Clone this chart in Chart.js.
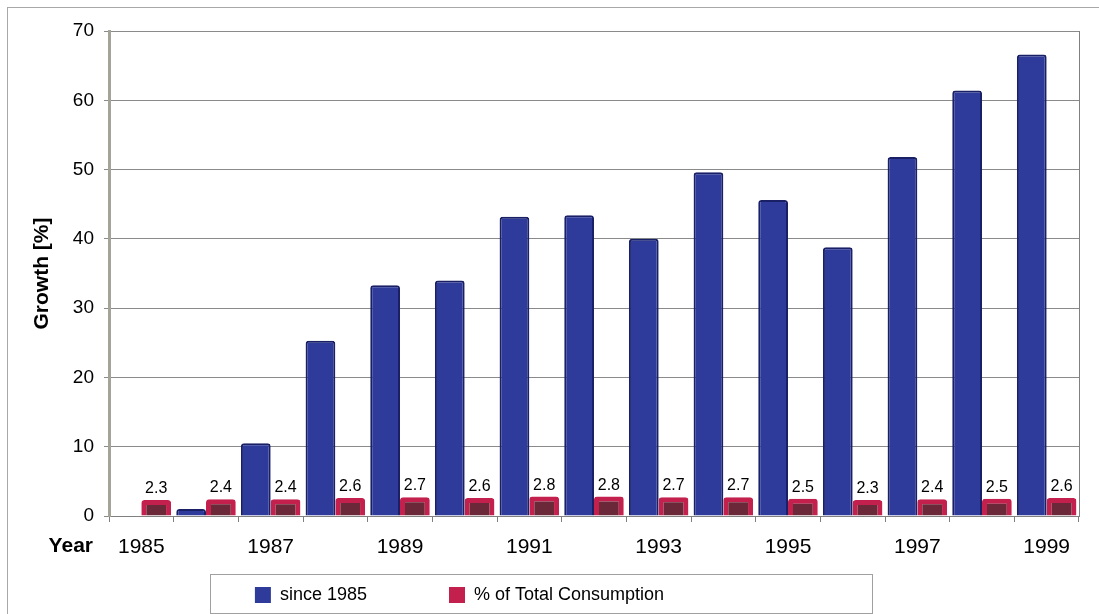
<!DOCTYPE html>
<html>
<head>
<meta charset="utf-8">
<script src="https://cdn.jsdelivr.net/npm/chart.js@4.4.0/dist/chart.umd.min.js"></script>
<style>
  html, body { margin: 0; padding: 0; background: #ffffff; }
  #wrap { width: 1099px; height: 614px; position: relative; }
</style>
</head>
<body>
<div id="wrap"><canvas id="c" width="1099" height="614"></canvas></div>
<script>
const years = ['1985','1986','1987','1988','1989','1990','1991','1992','1993','1994','1995','1996','1997','1998','1999'];
const growthSince1985 = [0, 1.0, 10.5, 25.3, 33.3, 34.0, 43.2, 43.4, 40.0, 49.6, 45.6, 38.8, 51.8, 61.4, 66.6];
const shareOfTotal = [2.3, 2.4, 2.4, 2.6, 2.7, 2.6, 2.8, 2.8, 2.7, 2.7, 2.5, 2.3, 2.4, 2.5, 2.6];
const seriesNames = ['since 1985', '% of Total Consumption'];
const yTicks = [0, 10, 20, 30, 40, 50, 60, 70];

const FONT = 'Arial, "Liberation Sans", Helvetica, sans-serif';

const decor = {
  id: 'decor',
  beforeDraw(chart) {
    const ctx = chart.ctx;
    ctx.save();
    ctx.fillStyle = '#ffffff';
    ctx.fillRect(0, 0, chart.width, chart.height);
    ctx.strokeStyle = '#a8a8a8';
    ctx.lineWidth = 1;
    ctx.strokeRect(7.5, 7.5, chart.width + 20, chart.height + 20);
    ctx.restore();
  },
  afterDraw(chart) {
    const ctx = chart.ctx;
    const a = chart.chartArea;
    ctx.save();
    // plot frame right edge
    ctx.strokeStyle = '#808080';
    ctx.lineWidth = 1;
    ctx.beginPath();
    ctx.moveTo(Math.round(a.right) + 0.5, a.top);
    ctx.lineTo(Math.round(a.right) + 0.5, a.bottom);
    ctx.stroke();
    // data labels on second series
    const meta = chart.getDatasetMeta(1);
    ctx.fillStyle = '#000000';
    ctx.font = '16px ' + FONT;
    ctx.textAlign = 'center';
    ctx.textBaseline = 'alphabetic';
    meta.data.forEach((el, i) => {
      ctx.fillText(shareOfTotal[i].toFixed(1), el.x, el.y - 7);
    });
    // "Year" label
    ctx.font = 'bold 21px ' + FONT;
    ctx.textAlign = 'right';
    ctx.textBaseline = 'middle';
    ctx.fillText('Year', 93, 546);
    // legend border
    ctx.strokeStyle = '#a0a0a0';
    ctx.strokeRect(210.5, 574.5, 662, 39);
    ctx.restore();
  }
};

const cfg = {
  type: 'bar',
  data: {
    labels: years,
    datasets: [
      {
        label: seriesNames[0],
        data: growthSince1985,
        backgroundColor: '#2e3b9a',
        borderColor: '#1a2066',
        borderWidth: 2,
        borderRadius: 3,
        borderSkipped: 'start',
        categoryPercentage: 0.92,
        barPercentage: 1.0
      },
      {
        label: seriesNames[1],
        data: shareOfTotal,
        backgroundColor: '#6b2838',
        borderColor: '#c4204e',
        borderWidth: 5,
        borderRadius: 3,
        borderSkipped: 'start',
        categoryPercentage: 0.92,
        barPercentage: 1.0
      }
    ]
  },
  options: {
    responsive: false,
    animation: false,
    devicePixelRatio: 1,
    layout: { padding: { left: 0, right: 20, top: 31, bottom: 0 } },
    plugins: {
      tooltip: { enabled: false },
      legend: {
        display: true,
        position: 'bottom',
        labels: {
          font: { family: FONT, size: 18 },
          color: '#000000',
          boxWidth: 16,
          boxHeight: 16,
          padding: 12,
          generateLabels(chart) {
            const pads = ['              ', '                                '];
            return chart.data.datasets.map((ds, i) => ({
              text: ds.label + pads[i],
              fillStyle: i === 0 ? '#2e3b9a' : '#c4204e',
              strokeStyle: i === 0 ? '#2e3b9a' : '#c4204e',
              lineWidth: 0,
              hidden: false,
              datasetIndex: i
            }));
          }
        }
      }
    },
    scales: {
      x: {
        grid: {
          display: true,
          drawOnChartArea: false,
          drawTicks: true,
          tickLength: 6,
          color: '#808080',
          offset: true
        },
        border: { display: true, color: '#808080', width: 1 },
        ticks: {
          autoSkip: false,
          maxRotation: 0,
          padding: 13,
          color: '#000000',
          font: { family: FONT, size: 21 },
          callback(v, i) { return i % 2 === 0 ? years[i] : ''; }
        },
        afterFit(s) { s.height = 614 - 516 - (s.chart.legend ? s.chart.legend.height : 44); }
      },
      y: {
        min: 0,
        max: 70,
        afterBuildTicks(s) { s.ticks = yTicks.map(v => ({ value: v })); },
        grid: {
          color: '#8a8a8a',
          lineWidth: 1,
          drawTicks: true,
          tickLength: 5
        },
        border: { display: true, color: '#a4a498', width: 3 },
        ticks: {
          padding: 10,
          color: '#000000',
          font: { family: FONT, size: 19 }
        },
        title: {
          display: true,
          text: 'Growth [%]',
          color: '#000000',
          font: { family: FONT, size: 21, weight: 'bold' },
          padding: { top: 30, bottom: 0 }
        },
        afterFit(s) { s.width = 109; }
      }
    }
  },
  plugins: [decor]
};

new Chart(document.getElementById('c'), cfg);
</script>
</body>
</html>
